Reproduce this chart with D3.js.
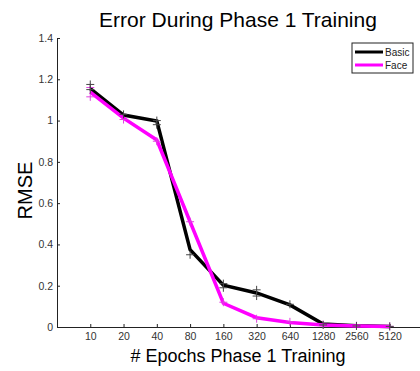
<!DOCTYPE html>
<html>
<head>
<meta charset="utf-8">
<script src="https://cdn.jsdelivr.net/npm/d3@7"></script>
<style>
  body { margin: 0; background: #fff; }
  svg { font-family: "Liberation Sans", Arial, sans-serif; }
</style>
</head>
<body>
<svg id="chart" width="420" height="371"></svg>
<script>
// data
var epochs = ["10", "20", "40", "80", "160", "320", "640", "1280", "2560", "5120"];
var basicRmse = [1.155, 1.027, 0.998, 0.375, 0.203, 0.165, 0.107, 0.015, 0.006, 0.003];
var faceRmse = [1.138, 1.012, 0.906, 0.51, 0.115, 0.045, 0.022, 0.01, 0.005, 0.003];
// individual run markers (+)
var basicMarks = [["10", 1.175], ["10", 1.15], ["20", 1.03], ["40", 1.0], ["40", 0.98], ["80", 0.35],
    ["160", 0.21], ["160", 0.19], ["320", 0.18], ["320", 0.15], ["640", 0.11], ["1280", 0.01],
    ["2560", 0.005], ["5120", 0.003]];
var faceMarks = [["10", 1.16], ["10", 1.115], ["20", 1.005], ["40", 0.9], ["80", 0.51], ["160", 0.12],
    ["320", 0.04], ["640", 0.025], ["1280", 0.012], ["2560", 0.006], ["5120", 0.003]];
var yTicks = [0, 0.2, 0.4, 0.6, 0.8, 1, 1.2, 1.4];

var svg = d3.select("#chart");
var mLeft = 57, mRight = 423, mTop = 38, mBottom = 327;

// categories sit at 1..10 on a 0..11 range, like matlab's default xlim
var x = d3.scaleLinear().domain([0, 11]).range([mLeft, mRight]);
var y = d3.scaleLinear().domain([0, 1.4]).range([mBottom, mTop]);
function xi(c) { return x(epochs.indexOf(c) + 1); }

// axes (ticks point inward)
var yAxis = d3.axisLeft(y).tickValues(yTicks).tickSize(-3).tickPadding(4)
    .tickFormat(function (d) { return d === 0 ? "0" : d3.format("")(d); });
var yG = svg.append("g").attr("transform", "translate(" + mLeft + ",0)").call(yAxis);

var xAxis = d3.axisBottom(x).tickValues(d3.range(1, 11)).tickSize(-3).tickPadding(6)
    .tickFormat(function (d) { return epochs[d - 1]; });
var xG = svg.append("g").attr("transform", "translate(0," + mBottom + ")").call(xAxis);

[yG, xG].forEach(function (g) {
    g.select(".domain").attr("stroke", "#222").attr("stroke-width", 1);
    g.selectAll(".tick line").attr("stroke", "#222");
    g.selectAll(".tick text").attr("fill", "#333").style("font-size", "10.5px")
        .style("font-family", "Liberation Sans, Arial, sans-serif");
});

var line = d3.line()
    .x(function (d, i) { return x(i + 1); })
    .y(function (d) { return y(d); });

svg.append("path").datum(basicRmse)
    .attr("d", line).attr("fill", "none")
    .attr("stroke", "#000").attr("stroke-width", 3.5).attr("stroke-linejoin", "miter");

svg.append("path").datum(faceRmse)
    .attr("d", line).attr("fill", "none")
    .attr("stroke", "#ff00ff").attr("stroke-width", 3.5).attr("stroke-linejoin", "miter");

function plus(sel, color) {
    sel.append("path")
        .attr("d", function (d) {
            var cx = xi(d[0]), cy = y(d[1]);
            return "M" + (cx - 4) + "," + cy + "H" + (cx + 4) + "M" + cx + "," + (cy - 4) + "V" + (cy + 4);
        })
        .attr("stroke", color).attr("stroke-width", 1).attr("fill", "none");
}
svg.append("g").selectAll("g").data(faceMarks).enter().append("g").call(plus, "#e040e0");
svg.append("g").selectAll("g").data(basicMarks).enter().append("g").call(plus, "#444");

// title and labels
svg.append("text")
    .attr("x", (mLeft + mRight) / 2 - 2).attr("y", 27)
    .attr("text-anchor", "middle")
    .style("font-size", "21px")
    .text("Error During Phase 1 Training");

svg.append("text")
    .attr("x", (mLeft + mRight) / 2 - 2).attr("y", 362)
    .attr("text-anchor", "middle")
    .style("font-size", "18px")
    .text("# Epochs Phase 1 Training");

svg.append("text")
    .attr("transform", "translate(32," + ((mTop + mBottom) / 2 + 8) + ") rotate(-90)")
    .attr("text-anchor", "middle")
    .style("font-size", "20px")
    .text("RMSE");

// legend
var legend = svg.append("g");
legend.append("rect")
    .attr("x", 352).attr("y", 43).attr("width", 61).attr("height", 30)
    .attr("fill", "#fff").attr("stroke", "#222").attr("stroke-width", 1);
var series = [["Basic", "#000"], ["Face", "#ff00ff"]];
series.forEach(function (s, i) {
    var ly = 52 + i * 13;
    legend.append("line")
        .attr("x1", 355).attr("x2", 383).attr("y1", ly).attr("y2", ly)
        .attr("stroke", s[1]).attr("stroke-width", 3);
    legend.append("text")
        .attr("x", 385).attr("y", ly + 3.5)
        .style("font-size", "10px").attr("fill", "#222")
        .text(s[0]);
});
</script>
</body>
</html>
